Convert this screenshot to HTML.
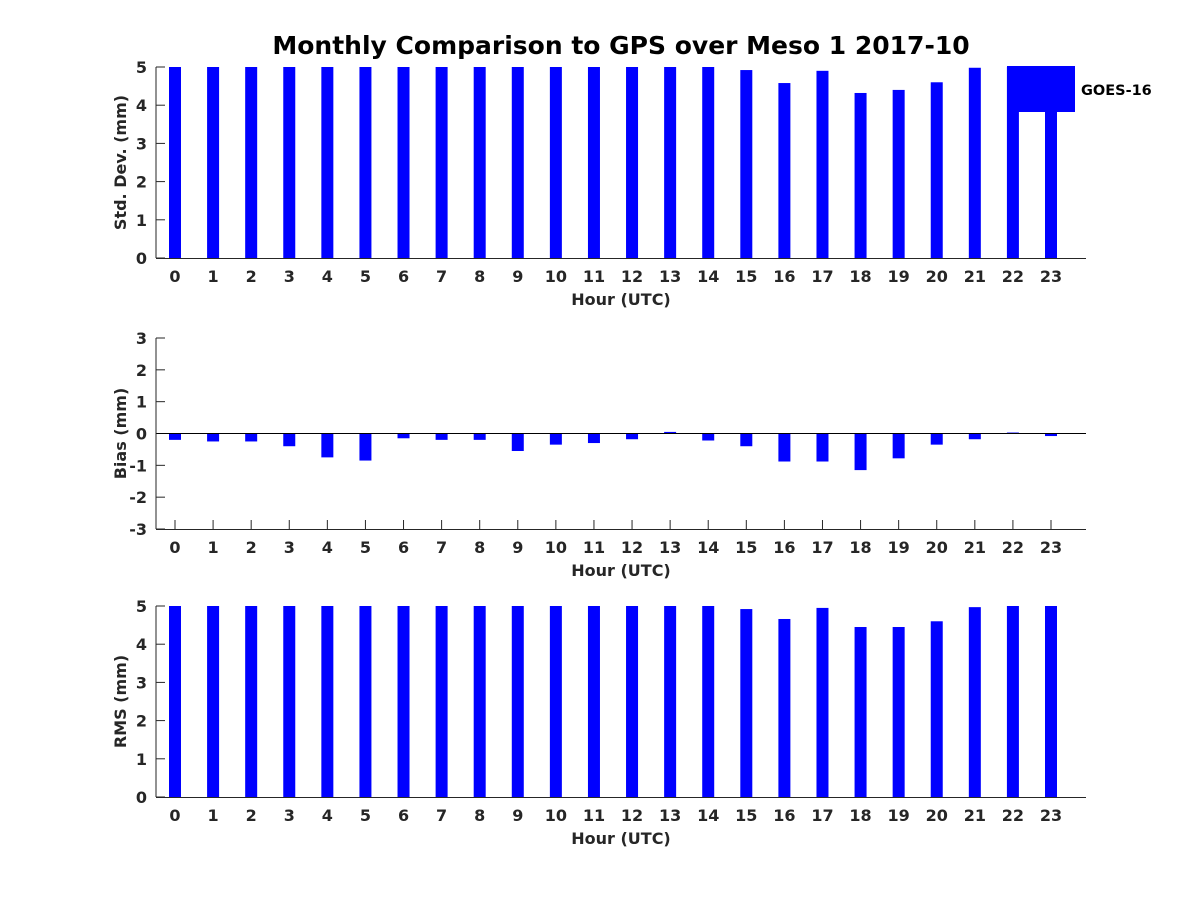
<!DOCTYPE html>
<html><head><meta charset="utf-8"><style>
body{margin:0;background:#fff;}
svg{display:block;font-family:"DejaVu Sans","Liberation Sans",sans-serif;font-weight:bold;}
</style></head><body>
<svg id="chart" width="1200" height="900" xmlns="http://www.w3.org/2000/svg">
<rect width="1200" height="900" fill="#fff"/>
<text x="621" y="54" text-anchor="middle" font-size="25" fill="#000">Monthly Comparison to GPS over Meso 1 2017-10</text>
</svg>
<script>
const hours=[0,1,2,3,4,5,6,7,8,9,10,11,12,13,14,15,16,17,18,19,20,21,22,23];
const stdVals=[5.3,5.3,5.3,5.3,5.3,5.3,5.3,5.3,5.3,5.3,5.3,5.3,5.3,5.3,5.3,4.92,4.58,4.9,4.32,4.4,4.6,4.98,5.02,5.01];
const biasVals=[-0.2,-0.25,-0.25,-0.4,-0.75,-0.85,-0.15,-0.2,-0.2,-0.55,-0.35,-0.3,-0.18,0.05,-0.22,-0.4,-0.88,-0.88,-1.15,-0.78,-0.35,-0.18,0.03,-0.08];
const rmsVals=[5.3,5.3,5.3,5.3,5.3,5.3,5.3,5.3,5.3,5.3,5.3,5.3,5.3,5.3,5.3,4.92,4.66,4.95,4.45,4.45,4.6,4.97,5.02,5.02];
const stdTicks=[0,1,2,3,4,5];
const biasTicks=[-3,-2,-1,0,1,2,3];
const rmsTicks=[0,1,2,3,4,5];
const NS="http://www.w3.org/2000/svg";
const svg=document.getElementById('chart');
function mk(t,a,p){const e=document.createElementNS(NS,t);for(const k in a)e.setAttribute(k,a[k]);(p||svg).appendChild(e);return e;}
const L=156,R=1086;
function xs(h){return 175+h*(1051-175)/23;}
function panel(name,top,bot,ymin,ymax,ticks,vals,ylabel,zero){
  const g=mk('g',{});
  
  
  const ys=v=>bot-(v-ymin)/(ymax-ymin)*(bot-top);
  ticks.forEach(t=>{
    const y=ys(t);
    mk('line',{x1:L,x2:L+9,y1:y,y2:y,stroke:'#262626'},g);
    const tx=mk('text',{x:L-9,y:y+6,'text-anchor':'end','font-size':16,fill:'#262626'},g);tx.textContent=t;
    
    
  });
  hours.forEach(h=>{
    const x=xs(h);
    mk('line',{x1:x,x2:x,y1:bot,y2:bot-9,stroke:'#262626'},g);
    const tx=mk('text',{x:x,y:bot+24,'text-anchor':'middle','font-size':16,fill:'#262626'},g);tx.textContent=h;
    
    
  });
  const cp=mk('clipPath',{id:'clip-'+name},g);mk('rect',{x:L,y:top,width:R-L,height:bot-top},cp);
  const bars=mk('g',{'clip-path':'url(#clip-'+name+')'},g);
  vals.forEach((v,i)=>{
    const y0=ys(zero),y1=ys(v);
    const b=mk('rect',{x:xs(hours[i])-6,y:Math.min(y0,y1),width:12,height:Math.abs(y1-y0),fill:'#0000ff'},bars);
    
    
  });
  if(zero!==ymin){mk('line',{x1:L,x2:R,y1:ys(0),y2:ys(0),stroke:'#000','stroke-width':1},g);}
  mk('line',{x1:L,x2:L,y1:top,y2:bot,stroke:'#262626','stroke-width':1},g);
  mk('line',{x1:L,x2:R,y1:bot+0.5,y2:bot+0.5,stroke:'#262626','stroke-width':1},g);
  const xl=mk('text',{x:621,y:bot+47,'text-anchor':'middle','font-size':16,fill:'#262626'},g);xl.textContent='Hour (UTC)';
  
  
  const cy=(top+bot)/2;
  const yl=mk('text',{x:0,y:0,transform:'translate(126,'+cy+') rotate(-90)','text-anchor':'middle','font-size':16,fill:'#262626'},g);yl.textContent=ylabel;
  
  
}
panel('std',67,258,0,5,stdTicks,stdVals,'Std. Dev. (mm)',0);
panel('bias',338,529,-3,3,biasTicks,biasVals,'Bias (mm)',0);
panel('rms',606,797,0,5,rmsTicks,rmsVals,'RMS (mm)',0);
const lg=mk('g',{});


mk('rect',{x:1007,y:66,width:68,height:46,fill:'#0000ff'},lg);
const lt=mk('text',{x:1081,y:95,'font-size':14.5,fill:'#000'},lg);lt.textContent='GOES-16';


</script>
</body></html>
